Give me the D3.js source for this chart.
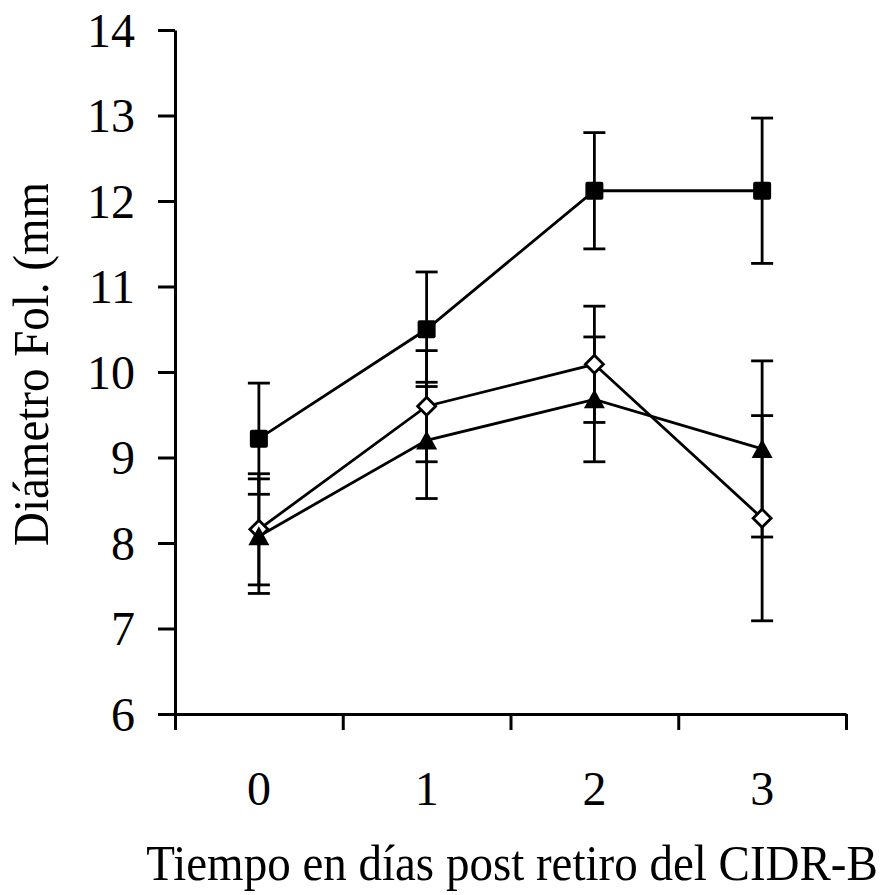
<!DOCTYPE html>
<html>
<head>
<meta charset="utf-8">
<script src="https://cdn.jsdelivr.net/npm/d3@7"></script>
<style>
    body { margin: 0; background: #fff; }
    svg text { font-family: "Liberation Serif", "Times New Roman", serif; fill: #000; }
</style>
</head>
<body>
<svg id="chart" width="883" height="895"></svg>
<script>
// values
const days = ["0", "1", "2", "3"];
const yTicks = [6, 7, 8, 9, 10, 11, 12, 13, 14];

const squareMean = [9.22, 10.5, 12.12, 12.12];
const squareErr = [0.65, 0.67, 0.68, 0.85];
const diamondMean = [8.16, 9.6, 10.09, 8.29];
const diamondErr = [0.65, 0.65, 0.68, 1.2];
const triangleMean = [8.08, 9.2, 9.68, 9.1];
const triangleErr = [0.67, 0.68, 0.73, 1.03];

const series = [
    { name: "square", mean: squareMean, err: squareErr },
    { name: "diamond", mean: diamondMean, err: diamondErr },
    { name: "triangle", mean: triangleMean, err: triangleErr }
];

const layout = { left: 175, right: 846, top: 30, bottom: 714 };
const svg = d3.select("#chart");

let x = d3.scaleBand().domain(days).range([layout.left, layout.right]).padding(0);
let xEdges = d3.scaleLinear().domain([0, days.length]).range([layout.left, layout.right]);
let y = d3.scaleLinear().domain([6, 14]).range([layout.bottom, layout.top]);

// y axis
let yAxis = svg.append("g")
    .attr("transform", "translate(" + layout.left + ",0)")
    .call(d3.axisLeft(y).tickValues(yTicks).tickSize(17).tickSizeOuter(0).tickPadding(23));
yAxis.selectAll("text").style("font-size", "48px").attr("dy", "0.34em");

// x axis: ticks on the category edges
svg.append("g")
    .attr("transform", "translate(0," + layout.bottom + ")")
    .call(d3.axisBottom(xEdges).tickValues(d3.range(0, days.length + 1)).tickSize(16).tickSizeOuter(0).tickFormat(""));

let xLabels = svg.append("g")
    .attr("transform", "translate(0," + layout.bottom + ")")
    .call(d3.axisBottom(x).tickSize(0).tickPadding(57));
xLabels.select(".domain").remove();
xLabels.selectAll("text").style("font-size", "48px");

svg.selectAll(".domain, .tick line").attr("stroke", "#000").attr("stroke-width", 3);

// axis titles
svg.append("text")
    .attr("transform", "translate(512,880) scale(1,1.07)")
    .attr("text-anchor", "middle")
    .style("font-size", "47px")
    .text("Tiempo en días post retiro del CIDR-B");

svg.append("clipPath").attr("id", "titleClip")
    .append("rect").attr("x", 0).attr("y", 184).attr("width", 170).attr("height", 700);

svg.append("g")
    .attr("clip-path", "url(#titleClip)")
    .append("text")
    .attr("transform", "translate(48,546) rotate(-90) scale(1,1.1)")
    .attr("text-anchor", "start")
    .style("font-size", "47px")
    .text("Diámetro Fol. (mm)");

const cx = function(i) { return x(days[i]) + x.bandwidth() / 2; };
let line = d3.line().x(function(d, i) { return cx(i); }).y(function(d) { return y(d); });

// lines
svg.selectAll(".seriesLine").data(series).enter()
    .append("path")
    .attr("class", "seriesLine")
    .attr("d", function(s) { return line(s.mean); })
    .attr("fill", "none")
    .attr("stroke", "#000")
    .attr("stroke-width", 2.8);

// error bars
series.forEach(function(s) {
    let g = svg.append("g").attr("class", "err_" + s.name);
    s.mean.forEach(function(m, i) {
        let hi = y(m + s.err[i]), lo = y(m - s.err[i]), px = cx(i);
        g.append("line").attr("x1", px).attr("x2", px).attr("y1", hi).attr("y2", lo);
        g.append("line").attr("x1", px - 11).attr("x2", px + 11).attr("y1", hi).attr("y2", hi);
        g.append("line").attr("x1", px - 11).attr("x2", px + 11).attr("y1", lo).attr("y2", lo);
    });
    g.selectAll("line").attr("stroke", "#000").attr("stroke-width", 2.8);
});

// markers
svg.selectAll(".mk_square").data(squareMean).enter()
    .append("rect")
    .attr("class", "mk_square")
    .attr("x", function(d, i) { return cx(i) - 9; })
    .attr("y", function(d) { return y(d) - 9; })
    .attr("width", 18).attr("height", 18)
    .attr("rx", 2)
    .attr("fill", "#000");

svg.selectAll(".mk_diamond").data(diamondMean).enter()
    .append("path")
    .attr("class", "mk_diamond")
    .attr("d", "M0,-9L9,0L0,9L-9,0Z")
    .attr("transform", function(d, i) { return "translate(" + cx(i) + "," + y(d) + ")"; })
    .attr("fill", "#fff")
    .attr("stroke", "#000")
    .attr("stroke-width", 2.8);

svg.selectAll(".mk_triangle").data(triangleMean).enter()
    .append("path")
    .attr("class", "mk_triangle")
    .attr("d", "M0,-10L10.5,9L-10.5,9Z")
    .attr("transform", function(d, i) { return "translate(" + cx(i) + "," + y(d) + ")"; })
    .attr("fill", "#000");
</script>
</body>
</html>
